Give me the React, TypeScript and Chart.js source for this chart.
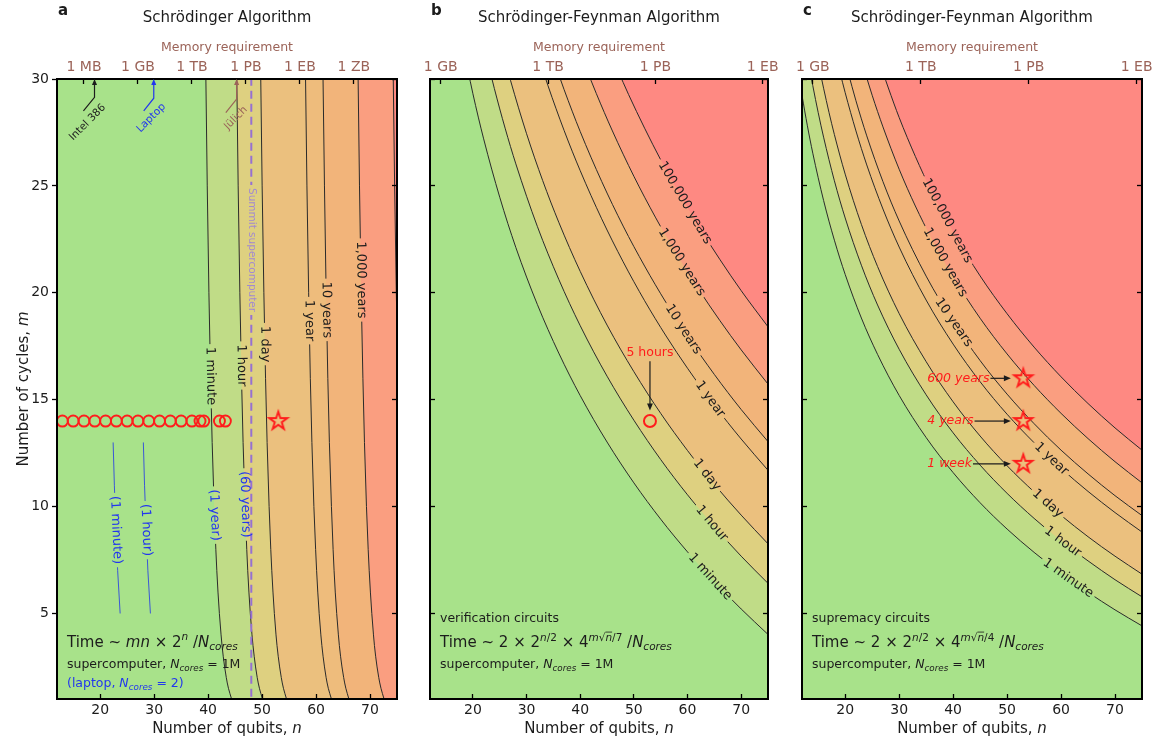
import React, { useEffect, useRef } from 'react';
import { Chart, registerables } from 'chart.js';

Chart.register(...registerables);

const FONT = '"DejaVu Sans", "Liberation Sans", sans-serif';
const INK = '#1c1c1c';
const LINE = '#2a2a2a';
const BROWN = '#9b6358';
const RED = '#ff1c1c';
const BLUE = '#2236ee';
const LAPTOP_LINE = '#3b57d6';
const PURPLE = '#9670d2';
const PURPLE_TEXT = '#a28ad0';

const AREA_T = 79;
const AREA_B = 699;

// ---------- axes ----------
const X_MIN = 12, X_MAX = 75, Y_MIN = 1, Y_MAX = 30;
const X_TICKS = [20, 30, 40, 50, 60, 70];
const Y_TICKS = [5, 10, 15, 20, 25, 30];
const MEM_A_N = [17, 27, 37, 47, 57, 67];
const MEM_A_LABELS = ['1 MB', '1 GB', '1 TB', '1 PB', '1 EB', '1 ZB'];
const MEM_BC_N = [14, 34, 54, 74];
const MEM_BC_LABELS = ['1 GB', '1 TB', '1 PB', '1 EB'];

const LEVELS = ['1 minute', '1 hour', '1 day', '1 year', '10 years', '1,000 years', '100,000 years'];
const REGION_COLORS = ['#a8e28a', '#c0dc87', '#ded080', '#ebc07e', '#eebc7c', '#f2b47a', '#fa9e80', '#fe8982'];

// ---------- panel a: Schrödinger (n read at each m) ----------
const A_M = [1, 1.5, 2, 3, 4, 6, 8, 10, 13, 16, 20, 25, 30.5];
const A_1MIN = [44.35, 43.77, 43.37, 42.8, 42.4, 41.83, 41.43, 41.12, 40.75, 40.46, 40.15, 39.84, 39.56];
const A_1HOUR = [50.07, 49.51, 49.1, 48.54, 48.13, 47.56, 47.16, 46.85, 46.48, 46.19, 45.88, 45.57, 45.29];
const A_1DAY = [54.53, 53.96, 53.56, 52.99, 52.58, 52.02, 51.61, 51.3, 50.93, 50.64, 50.33, 50.01, 49.73];
const A_1YEAR = [62.85, 62.27, 61.87, 61.3, 60.89, 60.32, 59.92, 59.6, 59.23, 58.94, 58.63, 58.31, 58.03];
const A_10YEARS = [66.09, 65.52, 65.12, 64.54, 64.14, 63.56, 63.16, 62.85, 62.47, 62.18, 61.87, 61.56, 61.27];
const A_1000YEARS = [72.6, 72.03, 71.62, 71.04, 70.64, 70.07, 69.66, 69.34, 68.97, 68.68, 68.36, 68.05, 67.77];
const A_100000YEARS = [79.11, 78.54, 78.13, 77.56, 77.15, 76.58, 76.17, 75.86, 75.48, 75.19, 74.87, 74.56, 74.28];
const A_CONTOURS = [A_1MIN, A_1HOUR, A_1DAY, A_1YEAR, A_10YEARS, A_1000YEARS, A_100000YEARS];
const A_LABEL_M = [16.1, 16.6, 17.6, 18.7, 19.2, 20.6, null];

const A_LAPTOP_M = [5, 7, 9, 11, 13];
const A_LAPTOP_1MIN = [23.7, 23.24, 22.9, 22.63, 22.4];
const A_LAPTOP_1HOUR = [29.31, 28.84, 28.5, 28.22, 28.0];

const A_SIM_N = [13, 15, 17, 19, 21, 23, 25, 27, 29, 31, 33, 35, 37, 38.5, 39.2, 42.1, 43.2];
const A_SIM_M = 14;
const A_STAR: [number, number] = [53, 14];
const SUMMIT_N = 48;
const SUMMIT_M = [0.5, 30.5];

// ---------- panel b: verification circuits ([n, m]) ----------
const B_1MIN: [number, number][] = [[18, 31.72], [20, 29.31], [22, 27.2], [25, 24.47], [28, 22.12], [32, 19.46], [36, 17.18], [40, 15.19], [45, 13.02], [50, 11.11], [55, 9.41], [60, 7.88], [65, 6.49], [70, 5.21], [75, 4.02]];
const B_1HOUR: [number, number][] = [[22, 31.61], [24, 29.55], [26, 27.7], [28, 26.03], [32, 23.11], [36, 20.63], [40, 18.46], [45, 16.1], [50, 14.04], [55, 12.2], [60, 10.55], [65, 9.06], [70, 7.68], [75, 6.41]];
const B_1DAY: [number, number][] = [[25, 31.81], [27, 29.94], [30, 27.44], [33, 25.25], [36, 23.3], [40, 21.0], [45, 18.49], [50, 16.31], [55, 14.36], [60, 12.62], [65, 11.04], [70, 9.6], [75, 8.26]];
const B_1YEAR: [number, number][] = [[32, 31.21], [34, 29.68], [37, 27.59], [40, 25.71], [44, 23.46], [48, 21.45], [52, 19.63], [56, 17.98], [60, 16.47], [65, 14.74], [70, 13.16], [75, 11.7]];
const B_10YEARS: [number, number][] = [[35, 30.92], [37, 29.5], [40, 27.54], [44, 25.21], [48, 23.12], [52, 21.25], [56, 19.54], [60, 17.97], [65, 16.18], [70, 14.54], [75, 13.04]];
const B_1000YEARS: [number, number][] = [[41, 30.57], [43, 29.32], [46, 27.57], [50, 25.45], [54, 23.54], [58, 21.79], [62, 20.19], [66, 18.71], [70, 17.33], [75, 15.73]];
const B_100000YEARS: [number, number][] = [[47, 30.41], [49, 29.28], [52, 27.7], [55, 26.22], [58, 24.85], [62, 23.14], [66, 21.57], [70, 20.1], [75, 18.41]];
const B_CONTOURS = [B_1MIN, B_1HOUR, B_1DAY, B_1YEAR, B_10YEARS, B_1000YEARS, B_100000YEARS];
const B_LABEL_N = [64.2, 64.5, 63.6, 64.2, 59.2, 58.9, 59.5];
const B_RUN: [number, number] = [53, 14];

// ---------- panel c: supremacy circuits ([n, m]) ----------
const C_1MIN: [number, number][] = [[11.5, 30.01], [12, 29.24], [13, 27.81], [14, 26.53], [16, 24.32], [18, 22.46], [20, 20.86], [23, 18.82], [26, 17.12], [30, 15.2], [35, 13.23], [40, 11.59], [45, 10.18], [50, 8.95], [55, 7.86], [60, 6.88], [65, 5.99], [70, 5.17], [75, 4.42]];
const C_1HOUR: [number, number][] = [[13.5, 30.37], [14, 29.69], [15, 28.43], [16, 27.28], [18, 25.24], [20, 23.5], [23, 21.29], [26, 19.43], [30, 17.36], [35, 15.23], [40, 13.45], [45, 11.94], [50, 10.62], [55, 9.45], [60, 8.4], [65, 7.46], [70, 6.58], [75, 5.78]];
const C_1DAY: [number, number][] = [[15.3, 30.41], [16, 29.57], [17, 28.44], [18, 27.4], [20, 25.55], [23, 23.2], [26, 21.23], [30, 19.03], [35, 16.78], [40, 14.9], [45, 13.3], [50, 11.91], [55, 10.69], [60, 9.59], [65, 8.59], [70, 7.68], [75, 6.84]];
const C_1YEAR: [number, number][] = [[19, 30.35], [20, 29.36], [22, 27.57], [24, 25.98], [27, 23.92], [30, 22.14], [35, 19.66], [40, 17.6], [45, 15.84], [50, 14.32], [55, 12.99], [60, 11.79], [65, 10.71], [70, 9.72], [75, 8.81]];
const C_10YEARS: [number, number][] = [[20.5, 30.35], [22, 28.98], [24, 27.34], [27, 25.2], [30, 23.36], [35, 20.78], [40, 18.65], [45, 16.83], [50, 15.26], [55, 13.88], [60, 12.64], [65, 11.53], [70, 10.51], [75, 9.58]];
const C_1000YEARS: [number, number][] = [[23.7, 30.3], [25, 29.24], [27, 27.76], [30, 25.78], [33, 24.06], [36, 22.54], [40, 20.75], [45, 18.81], [50, 17.14], [55, 15.67], [60, 14.36], [65, 13.18], [70, 12.1], [75, 11.11]];
const C_100000YEARS: [number, number][] = [[27, 30.31], [28, 29.58], [30, 28.2], [33, 26.38], [36, 24.75], [40, 22.85], [45, 20.79], [50, 19.02], [55, 17.46], [60, 16.07], [65, 14.82], [70, 13.68], [75, 12.64]];
const C_CONTOURS = [C_1MIN, C_1HOUR, C_1DAY, C_1YEAR, C_10YEARS, C_1000YEARS, C_100000YEARS];
const C_LABEL_N = [61.3, 60.3, 57.5, 58.2, 40.1, 38.5, 38.9];
const C_STAR_N = 53;
const C_STAR_M = [16, 14, 12];
const C_STAR_TEXT = ['600 years', '4 years', '1 week'];

// ---------- helpers ----------
type Part = { t: string; i?: boolean; sup?: boolean; sub?: boolean; over?: boolean };
type LabelSpec = { ds: number; key: 'x' | 'y'; value: number; text: string; size: number; color: string };

function drawRich(ctx: any, x: number, y: number, parts: Part[], size: number, color: string, align = 'left') {
  ctx.save();
  ctx.fillStyle = color;
  ctx.strokeStyle = color;
  ctx.textAlign = 'left';
  ctx.textBaseline = 'alphabetic';
  const setF = (p: Part) => {
    const s = p.sup || p.sub ? size * 0.7 : size;
    ctx.font = `${p.i ? 'italic ' : ''}${s}px ${FONT}`;
    return s;
  };
  let w = 0;
  for (const p of parts) { setF(p); w += ctx.measureText(p.t).width; }
  let cx = align === 'center' ? x - w / 2 : x;
  for (const p of parts) {
    const s = setF(p);
    const dy = p.sup ? -size * 0.42 : p.sub ? size * 0.2 : 0;
    ctx.fillText(p.t, cx, y + dy);
    const pw = ctx.measureText(p.t).width;
    if (p.over) {
      ctx.lineWidth = 0.8;
      ctx.beginPath();
      ctx.moveTo(cx, y + dy - s * 0.82);
      ctx.lineTo(cx + pw, y + dy - s * 0.82);
      ctx.stroke();
    }
    cx += pw;
  }
  ctx.restore();
}

function textAt(ctx: any, s: string, x: number, y: number, font: string, color: string, angle = 0, align = 'center') {
  ctx.save();
  ctx.translate(x, y);
  ctx.rotate(angle);
  ctx.font = font;
  ctx.fillStyle = color;
  ctx.textAlign = align;
  ctx.textBaseline = 'middle';
  ctx.fillText(s, 0, 0);
  ctx.restore();
}

function arrow(ctx: any, pts: number[][], color: string, head = 6) {
  ctx.save();
  ctx.strokeStyle = color;
  ctx.fillStyle = color;
  ctx.lineWidth = 1.2;
  const n = pts.length;
  const [x1, y1] = pts[n - 2];
  const [x2, y2] = pts[n - 1];
  const a = Math.atan2(y2 - y1, x2 - x1);
  ctx.beginPath();
  ctx.moveTo(pts[0][0], pts[0][1]);
  for (let k = 1; k < n - 1; k++) ctx.lineTo(pts[k][0], pts[k][1]);
  ctx.lineTo(x2 - head * 0.8 * Math.cos(a), y2 - head * 0.8 * Math.sin(a));
  ctx.stroke();
  const w = head * 0.42;
  ctx.beginPath();
  ctx.moveTo(x2, y2);
  ctx.lineTo(x2 - head * Math.cos(a) + w * Math.sin(a), y2 - head * Math.sin(a) - w * Math.cos(a));
  ctx.lineTo(x2 - head * Math.cos(a) - w * Math.sin(a), y2 - head * Math.sin(a) + w * Math.cos(a));
  ctx.closePath();
  ctx.fill();
  ctx.restore();
}

function locate(chart: any, ds: number, key: 'x' | 'y', value: number) {
  const raw = chart.data.datasets[ds].data as any[];
  const els = chart.getDatasetMeta(ds).data as any[];
  for (let i = 0; i < raw.length - 1; i++) {
    const a = raw[i][key], b = raw[i + 1][key];
    if (a === b) continue;
    if ((value - a) * (value - b) <= 0) {
      const t = (value - a) / (b - a);
      const p0 = els[i], p1 = els[i + 1];
      let dx = p1.x - p0.x, dy = p1.y - p0.y;
      const x = p0.x + t * dx, y = p0.y + t * dy;
      if (dx < -1e-9 || (Math.abs(dx) <= 1e-9 && dy < 0)) { dx = -dx; dy = -dy; }
      return { x, y, angle: Math.atan2(dy, dx) };
    }
  }
  return null;
}

function overlayPlugin(labels: LabelSpec[], extra: (chart: any) => void) {
  return {
    id: 'overlay',
    beforeDatasetDraw(chart: any, args: any) {
      const mine = labels.filter((l) => l.ds === args.index);
      if (!mine.length) return;
      const ctx = chart.ctx;
      ctx.save();
      ctx.beginPath();
      ctx.rect(0, 0, chart.width, chart.height);
      for (const l of mine) {
        const p = locate(chart, l.ds, l.key, l.value);
        if (!p) continue;
        ctx.font = `${l.size}px ${FONT}`;
        const hw = ctx.measureText(l.text).width / 2 + 3;
        const hh = l.size * 0.6;
        const c = Math.cos(p.angle), s = Math.sin(p.angle);
        const cs = [[-hw, -hh], [hw, -hh], [hw, hh], [-hw, hh]].map(([u, v]) => [p.x + u * c - v * s, p.y + u * s + v * c]);
        ctx.moveTo(cs[0][0], cs[0][1]);
        for (let k = 1; k < 4; k++) ctx.lineTo(cs[k][0], cs[k][1]);
        ctx.closePath();
      }
      ctx.clip('evenodd');
    },
    afterDatasetDraw(chart: any, args: any) {
      if (labels.some((l) => l.ds === args.index)) chart.ctx.restore();
    },
    afterDraw(chart: any) {
      const ctx = chart.ctx;
      for (const l of labels) {
        const p = locate(chart, l.ds, l.key, l.value);
        if (p) textAt(ctx, l.text, p.x, p.y, `${l.size}px ${FONT}`, l.color, p.angle);
      }
      extra(chart);
    },
  };
}

function header(chart: any, letter: string, title: string) {
  const ctx = chart.ctx;
  const { left, right } = chart.chartArea;
  const cx = (left + right) / 2;
  ctx.save();
  ctx.textBaseline = 'alphabetic';
  ctx.fillStyle = INK;
  ctx.font = `15px ${FONT}`;
  ctx.textAlign = 'center';
  ctx.fillText(title, cx, 22);
  ctx.font = `bold 15px ${FONT}`;
  ctx.textAlign = 'left';
  ctx.fillText(letter, left + 1, 15);
  ctx.fillStyle = BROWN;
  ctx.font = `12.5px ${FONT}`;
  ctx.textAlign = 'center';
  ctx.fillText('Memory requirement', cx, 51);
  ctx.restore();
  drawRich(ctx, cx, 732.5, [{ t: 'Number of qubits, ' }, { t: 'n', i: true }], 15, INK, 'center');
}

function makeScales(W: number, H: number, L: number, R: number, memN: number[], memLabels: string[], yLabels: boolean) {
  const tickFont = { family: FONT, size: 14 };
  const grid = (len: number) => ({ drawOnChartArea: false, drawTicks: true, tickLength: len, tickColor: '#000', tickWidth: 1.3, z: 1 });
  const border = { display: true, color: '#000', width: 2, z: 1 };
  const noPadH = (s: any) => { s.paddingLeft = 0; s.paddingRight = 0; };
  const noPadV = (s: any) => { s.paddingTop = 0; s.paddingBottom = 0; };
  return {
    x: {
      type: 'linear', position: 'bottom', min: X_MIN, max: X_MAX,
      afterBuildTicks: (s: any) => { s.ticks = X_TICKS.map((v) => ({ value: v })); },
      afterFit: (s: any) => { s.height = H - AREA_B; noPadH(s); },
      ticks: { font: tickFont, color: INK, padding: 8, maxRotation: 0, autoSkip: false },
      grid: grid(-5), border,
    },
    x2: {
      type: 'linear', axis: 'x', position: 'top', min: X_MIN, max: X_MAX,
      afterBuildTicks: (s: any) => { s.ticks = memN.map((v) => ({ value: v })); },
      afterFit: (s: any) => { s.height = AREA_T; noPadH(s); },
      ticks: { font: tickFont, color: BROWN, padding: 8, maxRotation: 0, autoSkip: false, callback: (_v: any, i: number) => memLabels[i] },
      grid: grid(-5), border,
    },
    y: {
      type: 'linear', position: 'left', min: Y_MIN, max: Y_MAX,
      afterBuildTicks: (s: any) => { s.ticks = Y_TICKS.map((v) => ({ value: v })); },
      afterFit: (s: any) => { s.width = L; noPadV(s); },
      ticks: { display: yLabels, font: tickFont, color: INK, padding: 3, autoSkip: false },
      grid: grid(yLabels ? 5 : -5), border,
    },
    y2: {
      type: 'linear', axis: 'y', position: 'right', min: Y_MIN, max: Y_MAX,
      afterBuildTicks: (s: any) => { s.ticks = Y_TICKS.map((v) => ({ value: v })); },
      afterFit: (s: any) => { s.width = W - R; noPadV(s); },
      ticks: { display: false },
      grid: grid(-5), border,
    },
  };
}

function baseOptions(scales: any) {
  return {
    responsive: false,
    animation: false,
    devicePixelRatio: 1,
    events: [],
    layout: { padding: 0 },
    scales,
    plugins: {
      legend: { display: false },
      tooltip: { enabled: false },
      title: { display: false },
      filler: { propagate: false, drawTime: 'beforeDatasetsDraw' },
    },
  };
}

function makeStar() {
  const S = 28;
  const c = document.createElement('canvas');
  c.width = S; c.height = S;
  const g = c.getContext('2d')!;
  g.beginPath();
  for (let k = 0; k < 10; k++) {
    const rr = k % 2 === 0 ? 9.5 : 9.5 * 0.382;
    const a = -Math.PI / 2 + (k * Math.PI) / 5;
    const px = S / 2 + rr * Math.cos(a), py = S / 2 + rr * Math.sin(a);
    if (k === 0) g.moveTo(px, py); else g.lineTo(px, py);
  }
  g.closePath();
  g.strokeStyle = RED;
  g.lineWidth = 1.9;
  g.stroke();
  return c;
}

const contourLine = {
  borderColor: LINE, borderWidth: 1, pointRadius: 0,
  cubicInterpolationMode: 'monotone', capBezierPoints: false,
  xAxisID: 'x', yAxisID: 'y',
};

// ---------- panel a ----------
function configA(star: any) {
  const W = 410, H = 738, L = 57, R = 397;
  const ds: any[] = [];
  const labels: LabelSpec[] = [];
  ds.push({
    data: A_SIM_N.map((n) => ({ x: n, y: A_SIM_M })), showLine: false, fill: false,
    pointStyle: 'circle', pointRadius: 5.5, pointBorderWidth: 1.9, pointBorderColor: RED,
    pointBackgroundColor: 'rgba(0,0,0,0)', borderColor: 'rgba(0,0,0,0)', xAxisID: 'x', yAxisID: 'y', order: 0,
  });
  ds.push({
    data: [{ x: A_STAR[0], y: A_STAR[1] }], showLine: false, fill: false, pointStyle: star, pointRadius: 9,
    borderColor: 'rgba(0,0,0,0)', xAxisID: 'x', yAxisID: 'y', order: 0,
  });
  const iSummit = ds.length;
  ds.push({
    data: SUMMIT_M.map((m) => ({ x: SUMMIT_N, y: m })), indexAxis: 'y', fill: false, borderColor: PURPLE,
    borderWidth: 2, borderDash: [8, 5], pointRadius: 0, xAxisID: 'x', yAxisID: 'y', order: 1,
  });
  labels.push({ ds: iSummit, key: 'y', value: 22, text: 'Summit supercomputer', size: 10.5, color: PURPLE_TEXT });
  const iLapMin = ds.length;
  ds.push({
    ...contourLine, data: A_LAPTOP_1MIN.map((n, j) => ({ x: n, y: A_LAPTOP_M[j] })), indexAxis: 'y',
    borderColor: LAPTOP_LINE, fill: false, order: 2,
  });
  labels.push({ ds: iLapMin, key: 'y', value: 8.9, text: '(1 minute)', size: 13, color: BLUE });
  const iLapHour = ds.length;
  ds.push({
    ...contourLine, data: A_LAPTOP_1HOUR.map((n, j) => ({ x: n, y: A_LAPTOP_M[j] })), indexAxis: 'y',
    borderColor: LAPTOP_LINE, fill: false, order: 2,
  });
  labels.push({ ds: iLapHour, key: 'y', value: 8.9, text: '(1 hour)', size: 13, color: BLUE });
  A_CONTOURS.forEach((ns, k) => {
    const i = ds.length;
    ds.push({
      ...contourLine, data: ns.map((n, j) => ({ x: n, y: A_M[j] })), indexAxis: 'y',
      backgroundColor: REGION_COLORS[k + 1], fill: { value: X_MAX }, order: 20 - k,
    });
    const lm = A_LABEL_M[k];
    if (lm != null) labels.push({ ds: i, key: 'y', value: lm, text: LEVELS[k], size: 13, color: INK });
    if (k === 0) labels.push({ ds: i, key: 'y', value: 9.6, text: '(1 year)', size: 13, color: BLUE });
    if (k === 1) labels.push({ ds: i, key: 'y', value: 10.1, text: '(60 years)', size: 13, color: BLUE });
  });
  ds.push({
    data: [{ x: X_MIN, y: 0.5 }, { x: X_MIN, y: 30.5 }], indexAxis: 'y', borderWidth: 0, borderColor: 'rgba(0,0,0,0)',
    backgroundColor: REGION_COLORS[0], fill: { value: X_MAX }, pointRadius: 0, xAxisID: 'x', yAxisID: 'y', order: 30,
  });

  const machines = [
    { text: 'Intel 386', color: INK, path: [[16.9, 28.51], [18.95, 29.14], [18.95, 30]], at: [17.68, 27.97] },
    { text: 'Laptop', color: BLUE, path: [[28.07, 28.51], [29.93, 29.1], [29.93, 30]], at: [29.47, 28.18] },
    { text: 'Jülich', color: BROWN, path: [[43.28, 28.43], [45.28, 29.06], [45.28, 30]], at: [45.15, 28.17] },
  ];

  const extra = (chart: any) => {
    const ctx = chart.ctx;
    const xs = chart.scales.x, ys = chart.scales.y;
    const P = (n: number, m: number) => [xs.getPixelForValue(n), ys.getPixelForValue(m)];
    header(chart, 'a', 'Schrödinger Algorithm');
    const { left, top, bottom } = chart.chartArea;
    ctx.save();
    ctx.translate(28, (top + bottom) / 2);
    ctx.rotate(-Math.PI / 2);
    drawRich(ctx, 0, 0, [{ t: 'Number of cycles, ' }, { t: 'm', i: true }], 15, INK, 'center');
    ctx.restore();
    for (const mc of machines) {
      arrow(ctx, mc.path.map(([n, m]) => P(n, m)), mc.color, 6);
      const [tx, ty] = P(mc.at[0], mc.at[1]);
      textAt(ctx, mc.text, tx, ty, `10.5px ${FONT}`, mc.color, -Math.PI / 4);
    }
    drawRich(ctx, left + 10, 646.5, [
      { t: 'Time ~ ' }, { t: 'mn', i: true }, { t: ' × 2' }, { t: 'n', i: true, sup: true }, { t: ' /' },
      { t: 'N', i: true }, { t: 'cores', i: true, sub: true },
    ], 15, INK);
    drawRich(ctx, left + 10, 668, [
      { t: 'supercomputer, ' }, { t: 'N', i: true }, { t: 'cores', i: true, sub: true }, { t: ' = 1M' },
    ], 12.5, INK);
    drawRich(ctx, left + 10, 687, [
      { t: '(laptop, ' }, { t: 'N', i: true }, { t: 'cores', i: true, sub: true }, { t: ' = 2)' },
    ], 12.5, BLUE);
  };

  return {
    type: 'line',
    data: { datasets: ds },
    options: baseOptions(makeScales(W, H, L, R, MEM_A_N, MEM_A_LABELS, true)),
    plugins: [overlayPlugin(labels, extra)],
  };
}

// ---------- panels b & c ----------
function configBC(panel: 'b' | 'c', star: any) {
  const W = panel === 'b' ? 375 : 376;
  const H = 738;
  const L = panel === 'b' ? 20 : 17;
  const R = panel === 'b' ? 358 : 357;
  const contours = panel === 'b' ? B_CONTOURS : C_CONTOURS;
  const labelN = panel === 'b' ? B_LABEL_N : C_LABEL_N;
  const ds: any[] = [];
  const labels: LabelSpec[] = [];
  if (panel === 'b') {
    ds.push({
      data: [{ x: B_RUN[0], y: B_RUN[1] }], showLine: false, fill: false, pointStyle: 'circle', pointRadius: 6,
      pointBorderWidth: 2, pointBorderColor: RED, pointBackgroundColor: 'rgba(0,0,0,0)', borderColor: 'rgba(0,0,0,0)',
      xAxisID: 'x', yAxisID: 'y', order: 0,
    });
  } else {
    ds.push({
      data: C_STAR_M.map((m) => ({ x: C_STAR_N, y: m })), showLine: false, fill: false, pointStyle: star, pointRadius: 9,
      borderColor: 'rgba(0,0,0,0)', xAxisID: 'x', yAxisID: 'y', order: 0,
    });
  }
  contours.forEach((pts, k) => {
    const i = ds.length;
    ds.push({
      ...contourLine, data: pts.map(([n, m]) => ({ x: n, y: m })),
      backgroundColor: REGION_COLORS[k + 1], fill: 'end', order: 20 - k,
    });
    labels.push({ ds: i, key: 'x', value: labelN[k], text: LEVELS[k], size: 13, color: INK });
  });
  ds.push({
    data: [{ x: 11, y: Y_MIN }, { x: 76, y: Y_MIN }], borderWidth: 0, borderColor: 'rgba(0,0,0,0)',
    backgroundColor: REGION_COLORS[0], fill: 'end', pointRadius: 0, xAxisID: 'x', yAxisID: 'y', order: 30,
  });

  const extra = (chart: any) => {
    const ctx = chart.ctx;
    const xs = chart.scales.x, ys = chart.scales.y;
    const P = (n: number, m: number) => [xs.getPixelForValue(n), ys.getPixelForValue(m)];
    header(chart, panel, 'Schrödinger-Feynman Algorithm');
    const { left } = chart.chartArea;
    if (panel === 'b') {
      const [tx, ty] = P(53, 17.2);
      textAt(ctx, '5 hours', tx, ty, `12.5px ${FONT}`, RED);
      arrow(ctx, [P(53, 16.8), P(53, 14.5)], INK, 7);
    } else {
      C_STAR_M.forEach((m, k) => {
        const [tx, ty] = P(35.2, m);
        ctx.font = `italic 12.5px ${FONT}`;
        const w = ctx.measureText(C_STAR_TEXT[k]).width;
        textAt(ctx, C_STAR_TEXT[k], tx, ty, `italic 12.5px ${FONT}`, RED, 0, 'left');
        const [ax] = P(50.7, m);
        arrow(ctx, [[tx + w + 1, ty], [ax, ty]], INK, 7);
      });
    }
    const tag = panel === 'b' ? 'verification circuits' : 'supremacy circuits';
    drawRich(ctx, left + 10, 622, [{ t: tag }], 12.5, INK);
    drawRich(ctx, left + 10, 647, [
      { t: 'Time ~ 2 × 2' }, { t: 'n', i: true, sup: true }, { t: '/2', sup: true }, { t: ' × 4' },
      { t: 'm', i: true, sup: true }, { t: '√', sup: true }, { t: 'n', i: true, sup: true, over: true },
      { t: panel === 'b' ? '/7' : '/4', sup: true }, { t: ' /' }, { t: 'N', i: true }, { t: 'cores', i: true, sub: true },
    ], 15, INK);
    drawRich(ctx, left + 10, 668, [
      { t: 'supercomputer, ' }, { t: 'N', i: true }, { t: 'cores', i: true, sub: true }, { t: ' = 1M' },
    ], 12.5, INK);
  };

  return {
    type: 'line',
    data: { datasets: ds },
    options: baseOptions(makeScales(W, H, L, R, MEM_BC_N, MEM_BC_LABELS, false)),
    plugins: [overlayPlugin(labels, extra)],
  };
}

export default function App() {
  const refA = useRef<HTMLCanvasElement>(null);
  const refB = useRef<HTMLCanvasElement>(null);
  const refC = useRef<HTMLCanvasElement>(null);
  useEffect(() => {
    document.body.style.margin = '0';
    const star = makeStar();
    const charts = [
      new Chart(refA.current as any, configA(star) as any),
      new Chart(refB.current as any, configBC('b', star) as any),
      new Chart(refC.current as any, configBC('c', star) as any),
    ];
    return () => charts.forEach((c) => c.destroy());
  }, []);
  return (
    <div style={{ position: 'relative', width: 1161, height: 738, background: '#fff', overflow: 'hidden' }}>
      <canvas ref={refA} width={410} height={738} style={{ position: 'absolute', left: 0, top: 0 }} />
      <canvas ref={refB} width={375} height={738} style={{ position: 'absolute', left: 410, top: 0 }} />
      <canvas ref={refC} width={376} height={738} style={{ position: 'absolute', left: 785, top: 0 }} />
    </div>
  );
}
